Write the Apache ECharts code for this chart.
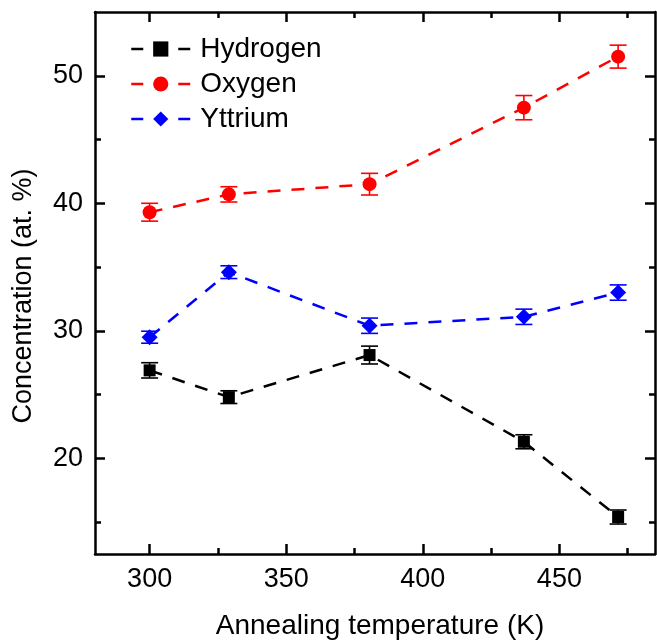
<!DOCTYPE html>
<html>
<head>
<meta charset="utf-8">
<script src="https://cdn.jsdelivr.net/npm/echarts@6/dist/echarts.min.js"></script>
<style>
  html, body { margin: 0; padding: 0; background: #fff; }
  #chart { width: 657px; height: 641px; }
</style>
</head>
<body>
<div id="chart"></div>
<script>
// values
const temps = [300, 329, 380.5, 437, 471.5];
const hydrogen = [26.9, 24.8, 28.1, 21.3, 15.4];
const hydrogenErr = [0.6, 0.5, 0.7, 0.55, 0.55];
const oxygen = [39.3, 40.7, 41.5, 47.5, 51.5];
const oxygenErr = [0.7, 0.6, 0.85, 0.95, 0.9];
const yttrium = [29.5, 34.6, 30.4, 31.1, 33.0];
const yttriumErr = [0.47, 0.5, 0.6, 0.6, 0.6];

const xMajor = [300, 350, 400, 450];
const xMinor = [325, 375, 425, 475];
const yMajor = [20, 30, 40, 50];
const yMinor = [15, 25, 35, 45];

const FONT = "Liberation Sans, Arial, sans-serif";
const chart = echarts.init(document.getElementById("chart"));

// axis helper: a shared frame, ticks drawn inside
const frameAxis = (pos, ticks, len, opts = {}) => ({
  type: "value",
  position: pos,
  min: opts.min,
  max: opts.max,
  axisLine: { show: !!opts.line, lineStyle: { color: "#000", width: 2.5 } },
  axisTick: {
    show: true,
    inside: true,
    length: len,
    customValues: ticks,
    lineStyle: { color: "#000", width: 2.5 },
  },
  axisLabel: opts.label
    ? { show: true, customValues: ticks, fontSize: 27, color: "#000", fontFamily: FONT, margin: opts.margin }
    : { show: false },
  splitLine: { show: false },
  name: opts.name,
  nameLocation: "middle",
  nameGap: opts.nameGap,
  nameTextStyle: { fontSize: opts.nameSize || 27, color: "#000", fontFamily: FONT, padding: opts.namePad || 0 },
});

const xr = { min: 280, max: 485 };
const yr = { min: 12.5, max: 55 };

const errorSeries = (vals, errs, color) => ({
  type: "custom",
  xAxisIndex: 0,
  yAxisIndex: 0,
  z: 1,
  silent: true,
  data: temps.map((t, i) => [t, vals[i], errs[i]]),
  encode: { x: 0, y: 1 },
  renderItem: (params, api) => {
    const x = api.value(0), y = api.value(1), e = api.value(2);
    const top = api.coord([x, y + e]);
    const bot = api.coord([x, y - e]);
    const hw = 8.5;
    const st = { stroke: color, lineWidth: 1.6 };
    return {
      type: "group",
      children: [
        { type: "line", shape: { x1: top[0], y1: top[1], x2: bot[0], y2: bot[1] }, style: st },
        { type: "line", shape: { x1: top[0] - hw, y1: top[1], x2: top[0] + hw, y2: top[1] }, style: st },
        { type: "line", shape: { x1: bot[0] - hw, y1: bot[1], x2: bot[0] + hw, y2: bot[1] }, style: st },
      ],
    };
  },
});

const lineSeries = (name, vals, color, symbol, size) => ({
  name,
  type: "line",
  xAxisIndex: 0,
  yAxisIndex: 0,
  z: 3,
  data: temps.map((t, i) => [t, vals[i]]),
  symbol,
  symbolSize: size,
  showAllSymbol: true,
  itemStyle: { color },
  lineStyle: { color, width: 2.5, type: [13, 11] },
});

chart.setOption({
  animation: false,
  grid: { left: 95, top: 12, right: 2, bottom: 87, containLabel: false, outerBoundsMode: "none" },
  legend: {
    left: 125,
    top: 30,
    orient: "vertical",
    itemWidth: 59,
    itemHeight: 19,
    itemGap: 7,
    textStyle: { fontSize: 28, color: "#000", fontFamily: FONT, padding: [0, 0, 0, 5] },
    lineStyle: { type: [12, 35], width: 2.5 },
    data: ["Hydrogen", "Oxygen", "Yttrium"],
  },
  xAxis: [
    frameAxis("bottom", xMajor, 10, { ...xr, line: true, label: true, margin: 12, name: "Annealing temperature (K)", nameGap: 58, nameSize: 28, namePad: [0, 0, 0, 10] }),
    frameAxis("bottom", xMinor, 6, xr),
    frameAxis("top", xMajor, 10, { ...xr, line: true }),
    frameAxis("top", xMinor, 6, xr),
  ],
  yAxis: [
    frameAxis("left", yMajor, 10, { ...yr, line: true, label: true, margin: 12, name: "Concentration (at. %)", nameGap: 58, namePad: [0, 26, 0, 0] }),
    frameAxis("left", yMinor, 6, yr),
    frameAxis("right", yMajor, 10, { ...yr, line: true }),
    frameAxis("right", yMinor, 6, yr),
  ],
  series: [
    errorSeries(hydrogen, hydrogenErr, "#000"),
    errorSeries(oxygen, oxygenErr, "#ff0000"),
    errorSeries(yttrium, yttriumErr, "#0000ff"),
    lineSeries("Hydrogen", hydrogen, "#000", "rect", 12),
    lineSeries("Oxygen", oxygen, "#ff0000", "circle", 14),
    lineSeries("Yttrium", yttrium, "#0000ff", "diamond", 16),
  ],
});
</script>
</body>
</html>
